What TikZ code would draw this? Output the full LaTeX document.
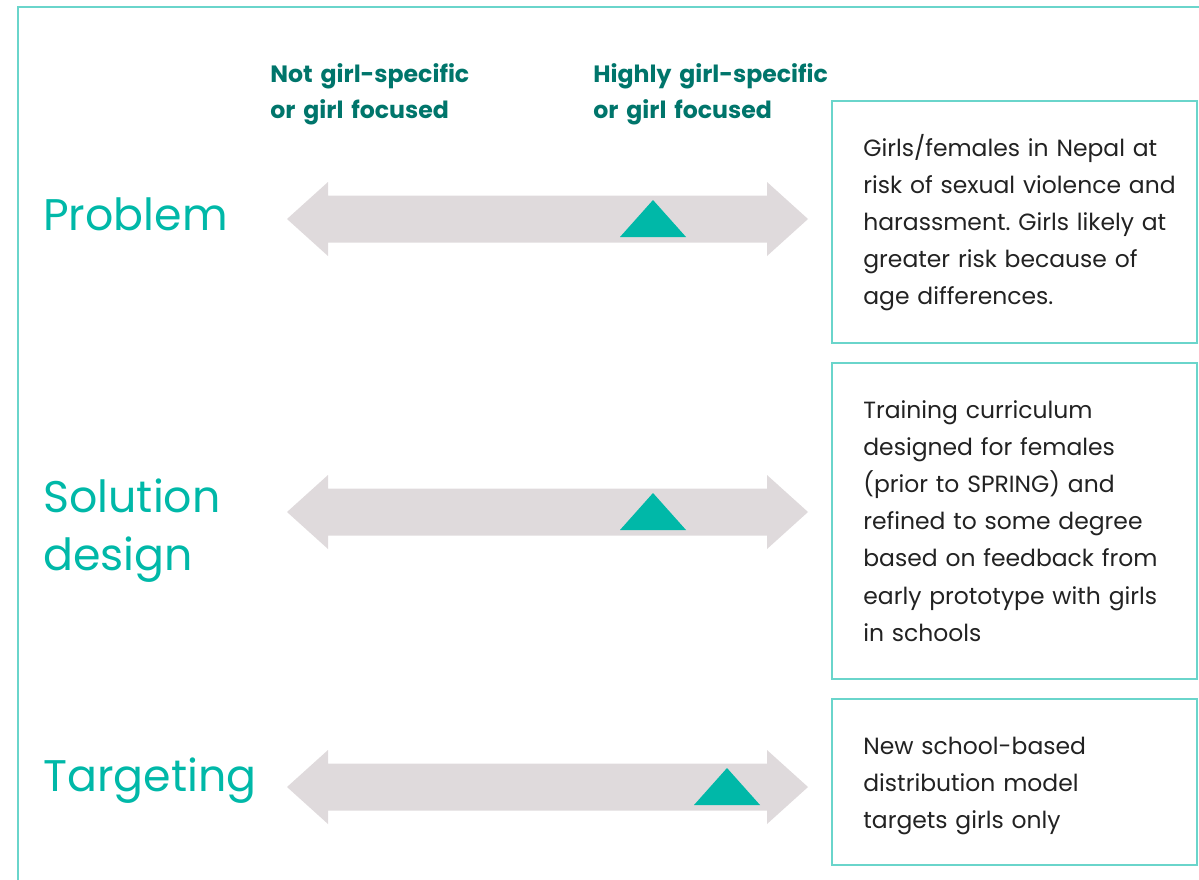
\documentclass[tikz,border=0pt]{standalone}
\usepackage{fontspec}
\setmainfont{Poppins}
\usetikzlibrary{positioning}
\frenchspacing

\definecolor{headteal}{HTML}{00B8A8}
\definecolor{labelteal}{HTML}{00756B}
\definecolor{framecol}{HTML}{6AD5CB}
\definecolor{arrowgray}{HTML}{DFDADC}
\definecolor{bodytext}{HTML}{222222}

\begin{document}
\begin{tikzpicture}[x=0.02cm,y=-0.02cm,
   heading/.style={font=\fontsize{25.2}{33.5}\selectfont,text=headteal,
      anchor=base west,inner sep=0,text width=8cm,align=left},
   scalelabel/.style={font=\fontsize{13.45}{21}\selectfont\bfseries,text=labelteal,
      anchor=base west,inner sep=0,text width=6cm,align=left},
   infobox/.style={draw=framecol,line width=1.1pt,anchor=north west,inner sep=0,
      minimum width=7.3cm},
   infotext/.style={font=\fontsize{13.35}{21.2}\selectfont,text=bodytext,
      anchor=base west,inner sep=0,text width=8cm,align=left},
   marker/.style={fill=headteal}]
   \clip (0,0) rectangle (1199,879);
   \draw[framecol,line width=1.1pt] (18,7) rectangle (1230,920);

   % column labels
   \node[scalelabel] (notgirl) at (270,82) {Not girl-specific\\or girl focused};
   \node[scalelabel] (highgirl) at (593,82) {Highly girl-specific\\or girl focused};

   % row headings
   \node[heading] (problem) at (43,230) {Problem};
   \node[heading] (solution) at (43,512) {Solution\\design};
   \node[heading] (targeting) at (43,791) {Targeting};

   % scale arrows with markers
   \foreach \c/\m in {219/653, 512/653, 787/727} {
      \fill[arrowgray] (287,\c) -- (328,\c-37) -- (328,\c-23.5) -- (767,\c-23.5)
         -- (767,\c-37) -- (808,\c) -- (767,\c+37) -- (767,\c+23.5)
         -- (328,\c+23.5) -- (328,\c+37) -- cycle;
      \fill[marker] (\m,\c-19) -- (\m+33,\c+18) -- (\m-33,\c+18) -- cycle;
   }

   % boxes
   \node[infobox,minimum height=4.84cm] (probbox) at (831,100) {};
   \node[infobox,minimum height=6.32cm] (solbox) at (831,362) {};
   \node[infobox,minimum height=3.32cm] (targbox) at (831,698) {};

   \node[infotext] (probtext) at (863,156) {Girls/females in Nepal at\\risk of sexual violence and\\harassment. Girls likely at\\greater risk because of\\age differences.};
   \node[infotext] (soltext) at (863,418) {Training curriculum\\designed for females\\(prior to SPRING) and\\refined to some degree\\based on feedback from\\early prototype with girls\\in schools};
   \node[infotext] (targtext) at (863,754) {New school-based\\distribution model\\targets girls only};
\end{tikzpicture}
\end{document}
